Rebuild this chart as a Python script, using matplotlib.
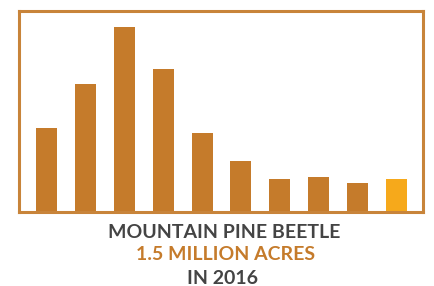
import matplotlib
matplotlib.use("Agg")
import matplotlib.pyplot as plt

years = [2007, 2008, 2009, 2010, 2011, 2012, 2013, 2014, 2015, 2016]
acres_millions = [3.8, 5.8, 8.4, 6.5, 3.6, 2.3, 1.5, 1.6, 1.3, 1.5]
title_lines = ["MOUNTAIN PINE BEETLE", "1.5 MILLION ACRES", "IN 2016"]

W, H = 435, 286
fig = plt.figure(figsize=(W / 100, H / 100), dpi=100)
ax = fig.add_axes([19 / W, (H - 212) / H, (423 - 19) / W, (212 - 11) / H])

brown = "#C57B2B"
gold = "#F6A91B"
colors = [brown] * (len(years) - 1) + [gold]
x = list(range(len(years)))
ax.bar(x, acres_millions, width=0.54, color=colors, zorder=2)
ax.set_xlim(-0.707, len(years) - 1 + 0.68)
ax.set_ylim(0, 9.14)
ax.set_xticks([])
ax.set_yticks([])
for s in ax.spines.values():
    s.set_color("#C8843A")
    s.set_linewidth(2.2)

font = ["Lato", "DejaVu Sans"]
fig.text(224.5 / W, 1 - 238 / H, title_lines[0], ha="center", va="baseline",
         fontsize=14, fontweight="bold", color="#444444", family=font)
fig.text(226 / W, 1 - 260 / H, title_lines[1], ha="center", va="baseline",
         fontsize=14, fontweight="bold", color="#C57B2B", family=font)
fig.text(222.5 / W, 1 - 284 / H, title_lines[2], ha="center", va="baseline",
         fontsize=14, fontweight="bold", color="#444444", family=font)

fig.savefig("out.png", dpi=100)
